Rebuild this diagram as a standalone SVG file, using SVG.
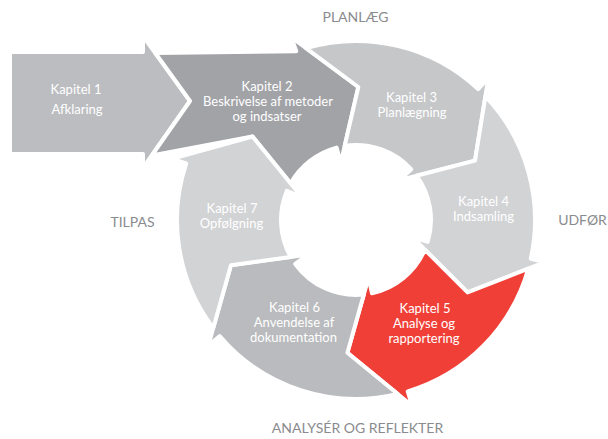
<svg xmlns="http://www.w3.org/2000/svg" width="608" height="439" viewBox="0 0 608 439">
<style>
.s{stroke:#fff;stroke-width:4;stroke-linejoin:round}
.t{font-family:Lato,'Liberation Sans',sans-serif;font-size:13px;fill:#fff;text-anchor:middle}
.o{font-family:Lato,'Liberation Sans',sans-serif;font-size:14px;fill:#8a8b8e;text-anchor:middle}
</style>
<rect width="608" height="439" fill="#fff"/>
<g id="k1">
<path class="s" fill="#bcbdc0" d="M10,52 L143,52 L143,36 L190,101 L143,168 L143,154 L10,154 Z"/>
<text class="t" x="76" y="94">Kapitel 1</text>
<text class="t" x="77" y="114">Afklaring</text>
</g>
<g id="k2">
<path class="s" fill="#a2a3a7" d="M155.3,53 L296.25,51.27 L291.24,37.14 L358.32,87.02 L340.73,163.01 L336.59,147.56 A75,75 0 0 0 290.55,183.37 L252.5,136.48 L151.8,155.5 L190,101 Z"/>
<text class="t" x="267" y="91">Kapitel 2</text>
<text class="t" x="268" y="106">Beskrivelse af metoder</text>
<text class="t" x="267" y="121">og indsatser</text>
</g>
<g id="k3">
<path class="s" fill="#c6c7c9" d="M306.02,48.12 A179,179 0 0 1 478.08,89.08 L488.31,78.11 L475.02,160.66 L399.5,180.14 L411.3,169.33 A75,75 0 0 0 344.7,145.85 L358.32,87.02 Z"/>
<text class="t" x="411.5" y="101.5">Kapitel 3</text>
<text class="t" x="412" y="117">Planlægning</text>
</g>
<g id="k4">
<path class="s" fill="#d2d3d5" d="M485.4,96.33 A179,179 0 0 1 530.76,258.74 L545.4,261.98 L467.55,292.43 L412.42,237.25 L427.72,241.93 A75,75 0 0 0 416.55,175.74 L475.02,160.66 Z"/>
<text class="t" x="483.5" y="205.5">Kapitel 4</text>
<text class="t" x="483.5" y="220.5">Indsamling</text>
</g>
<g id="k5">
<path class="s" fill="#ef3f37" d="M528.25,268.71 A179,179 0 0 1 407.73,391.36 L412.07,405.72 L347.42,352.72 L368.57,277.64 L371.98,293.28 A75,75 0 0 0 424.87,249.72 L467.55,292.43 Z"/>
<text class="t" x="425" y="313">Kapitel 5</text>
<text class="t" x="424" y="328">Analyse og</text>
<text class="t" x="424" y="343">rapportering</text>
</g>
<g id="k6">
<path class="s" fill="#babbbe" d="M397.81,394.04 A179,179 0 0 1 219.69,336.01 L208.27,345.73 L230.94,265.27 L308.21,254.6 L295.25,263.98 A75,75 0 0 0 363.79,294.6 L347.42,352.72 Z"/>
<text class="t" x="294.5" y="312">Kapitel 6</text>
<text class="t" x="294" y="327">Anvendelse af</text>
<text class="t" x="293.5" y="342">dokumentation</text>
</g>
<g id="k7">
<path class="s" fill="#d2d3d5" d="M213.25,327.99 A179,179 0 0 1 186.15,163.51 L171.91,158.77 L252.5,136.48 L301.65,197.04 L286.91,190.82 A75,75 0 0 0 290.76,257 L230.94,265.27 Z"/>
<text class="t" x="232" y="213">Kapitel 7</text>
<text class="t" x="231.5" y="228">Opfølgning</text>
</g>
<g id="connectors"/>
<g id="phases">
<text class="o" x="355.5" y="22">PLANLÆG</text>
<text class="o" x="582.5" y="225">UDFØR</text>
<text class="o" x="357.5" y="433">ANALYSÉR OG REFLEKTER</text>
<text class="o" x="132.5" y="227">TILPAS</text>
</g>
</svg>
